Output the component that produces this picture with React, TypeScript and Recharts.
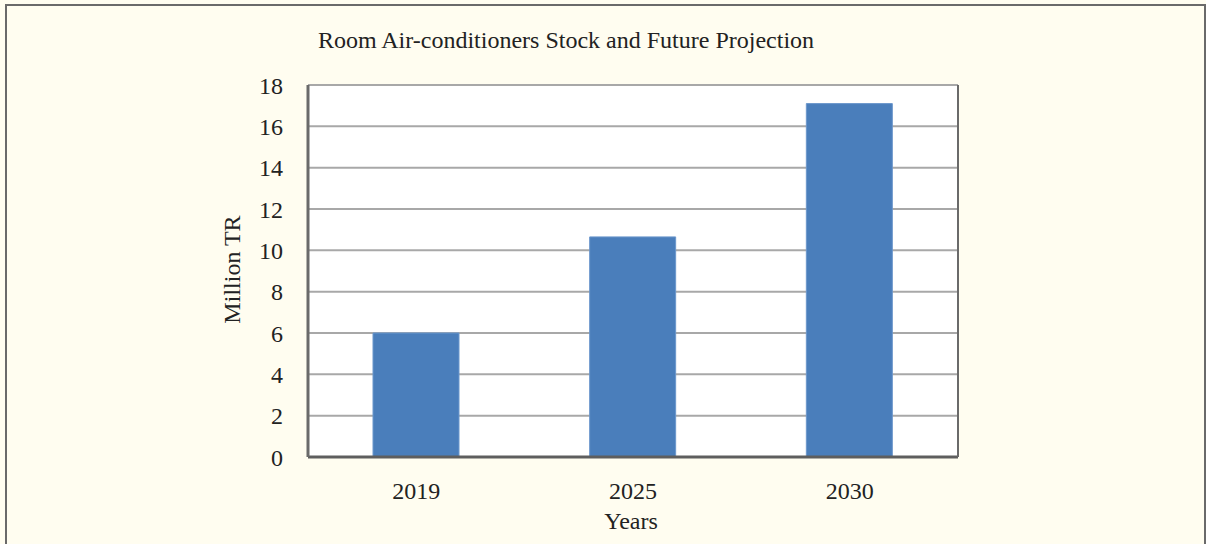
import { BarChart, Bar, XAxis, YAxis, CartesianGrid } from "recharts";

const years = ["2019", "2025", "2030"];
const stockMillionTR = [6.0, 10.65, 17.1];
const yTicks = [0, 2, 4, 6, 8, 10, 12, 14, 16, 18];

const data = years.map((year, i) => ({ year, stock: stockMillionTR[i] }));

const font = '"Liberation Serif", "DejaVu Serif", serif';
const tickStyle = { fontFamily: font, fontSize: 24, fill: "#222" };

export default function App() {
    return (
        <div
            style={{
                position: "absolute",
                left: 0,
                top: 0,
                width: 1206,
                height: 544,
                overflow: "hidden",
                background: "#fffdf0",
            }}
        >
            {/* outer frame, bottom edge runs off the picture */}
            <div
                style={{
                    position: "absolute",
                    left: 5,
                    top: 4,
                    width: 1197,
                    height: 600,
                    border: "2px solid #6a6a6a",
                }}
            />
            <div
                style={{
                    position: "absolute",
                    left: 0,
                    top: 27,
                    width: 1132,
                    textAlign: "center",
                    fontFamily: font,
                    fontSize: 24,
                    color: "#222",
                }}
            >
                Room Air-conditioners Stock and Future Projection
            </div>
            <BarChart
                width={1206}
                height={544}
                data={data}
                margin={{ top: 85, right: 247, bottom: 47, left: 248 }}
                style={{ position: "absolute", left: 0, top: 0 }}
            >
                <CartesianGrid vertical={false} stroke="#a8a8a8" strokeWidth={2} fill="#ffffff" />
                <XAxis
                    dataKey="year"
                    height={40}
                    tickLine={false}
                    tickSize={0}
                    tickMargin={25}
                    axisLine={{ stroke: "#5e5e5e", strokeWidth: 3 }}
                    tick={tickStyle}
                />
                <XAxis
                    xAxisId="top"
                    orientation="top"
                    dataKey="year"
                    height={0}
                    tick={false}
                    tickLine={false}
                    axisLine={{ stroke: "#6a6a6a", strokeWidth: 3 }}
                />
                <YAxis
                    domain={[0, 18]}
                    ticks={yTicks}
                    width={60}
                    tickLine={false}
                    tickSize={0}
                    tickMargin={25}
                    axisLine={{ stroke: "#6a6a6a", strokeWidth: 3 }}
                    tick={tickStyle}
                />
                <YAxis
                    yAxisId="right"
                    orientation="right"
                    domain={[0, 18]}
                    width={1}
                    tick={false}
                    tickLine={false}
                    axisLine={{ stroke: "#6a6a6a", strokeWidth: 2 }}
                />
                <Bar
                    dataKey="stock"
                    fill="#4a7ebb"
                    stroke="#6b97cc"
                    strokeWidth={1}
                    barSize={86}
                    isAnimationActive={false}
                />
            </BarChart>
            <div
                style={{
                    position: "absolute",
                    left: 531,
                    top: 508,
                    width: 200,
                    textAlign: "center",
                    fontFamily: font,
                    fontSize: 24,
                    color: "#222",
                }}
            >
                Years
            </div>
            <div
                style={{
                    position: "absolute",
                    left: 132,
                    top: 256,
                    width: 200,
                    textAlign: "center",
                    fontFamily: font,
                    fontSize: 24,
                    color: "#222",
                    transform: "rotate(-90deg)",
                }}
            >
                Million TR
            </div>
        </div>
    );
}
